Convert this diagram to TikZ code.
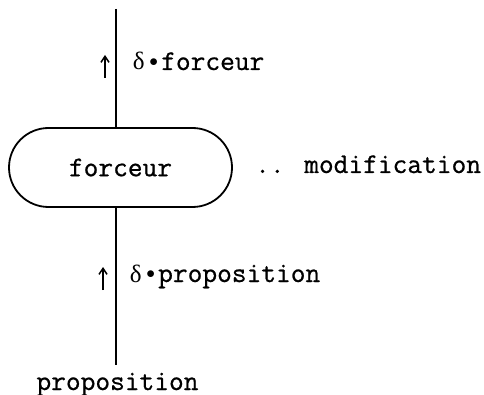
\documentclass[tikz,border=0pt]{standalone}
\usepackage{fontspec}
\newfontfamily\typewr{Latin Modern Mono}[FakeBold=0.7]
\newfontfamily\greekup{Liberation Serif}
\usetikzlibrary{arrows.meta, positioning, shapes.misc}

% one monospace cell each for the delta and the dot
\newcommand{\cellof}[1]{\makebox[0.525em]{#1}}
\newcommand{\dltdot}{\cellof{{\greekup\fontsize{25}{30}\selectfont δ}}\cellof{\raisebox{0.12em}{\scalebox{0.7}{$\bullet$}}}}

\tikzset{
  txt/.style={font=\fontsize{28.6}{34}\typewr, inner sep=0pt},
  forcebox/.style={rounded rectangle, draw, line width=1.8pt,
    minimum width=223pt, minimum height=79pt},
  flowline/.style={line width=1.8pt},
  tickarrow/.style={line width=1.5pt, -{Straight Barb[length=6pt,width=8pt]}}
}

\begin{document}
\begin{tikzpicture}[x=1pt,y=-1pt]
  \useasboundingbox (0,0) rectangle (484,395);

  % box and labels
  \node[forcebox, txt] (forceur) at (120.5,167.5) {forceur};
  \node[txt, anchor=base west] (modif) at (255,173) {.. modification};
  \node[txt, anchor=base] (prop) at (117.5,390) {proposition};
  \node[txt, anchor=base west] (dforce) at (131,70) {\dltdot forceur};
  \node[txt, anchor=base west] (dprop) at (128,282) {\dltdot proposition};

  % vertical flow
  \coordinate (topend) at (116,9);
  \coordinate (botend) at (116,365);
  \draw[flowline] (topend) -- (topend |- forceur.north);
  \draw[flowline] (botend |- forceur.south) -- (botend);

  % small up arrows
  \coordinate (up1a) at (105,78);
  \coordinate (up1b) at (105,55);
  \coordinate (up2a) at (103,290);
  \coordinate (up2b) at (103,267);
  \draw[tickarrow] (up1a) -- (up1b);
  \draw[tickarrow] (up2a) -- (up2b);
\end{tikzpicture}
\end{document}
